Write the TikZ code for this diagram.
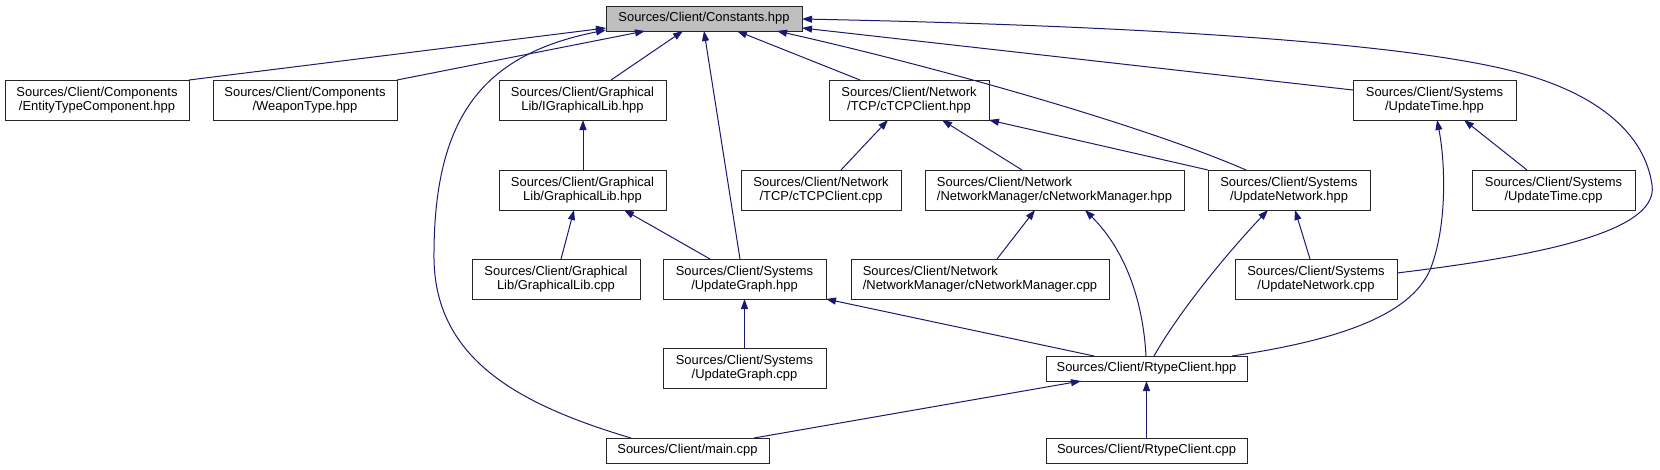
\documentclass[tikz,border=0pt]{standalone}
\usepackage{fontspec}
\setmainfont{Liberation Sans}
\usetikzlibrary{arrows.meta,calc}
\definecolor{edgeblue}{HTML}{191970}
\definecolor{rootgray}{HTML}{BFBFBF}
\tikzset{
  x=0.75pt, y=-0.75pt,
  box/.style={draw=black!85, line width=0.75pt, fill=white, inner sep=0pt, outer sep=0pt,
    align=center, font=\fontsize{9.7}{11}\selectfont, minimum height=30pt},
  onebox/.style={box, minimum height=18.75pt},
  leftbox/.style={box, align=left},
  rootbox/.style={onebox, fill=rootgray},
  edge/.style={draw=edgeblue, line width=0.75pt, -{Triangle[length=7.5pt,width=5.25pt]}},
}
\begin{document}
\begin{tikzpicture}
\useasboundingbox (0,0) rectangle (1660,469);
% row 0
\node[rootbox, minimum width=147pt] (const) at (704,18.5) {Sources/Client/Constants.hpp};
% row 1
\node[box, minimum width=138pt] (etc) at (97,100) {Sources/Client/Components\\/EntityTypeComponent.hpp};
\node[box, minimum width=138pt] (wt) at (305,100) {Sources/Client/Components\\/WeaponType.hpp};
\node[box, minimum width=125.25pt] (igl) at (582.5,100) {Sources/Client/Graphical\\Lib/IGraphicalLib.hpp};
\node[box, minimum width=120pt] (tcph) at (909,100) {Sources/Client/Network\\/TCP/cTCPClient.hpp};
\node[box, minimum width=122.25pt] (uth) at (1434.5,100) {Sources/Client/Systems\\/UpdateTime.hpp};
% row 2
\node[box, minimum width=125.25pt] (glh) at (582.5,190) {Sources/Client/Graphical\\Lib/GraphicalLib.hpp};
\node[box, minimum width=120pt] (tcpc) at (821,190) {Sources/Client/Network\\/TCP/cTCPClient.cpp};
\node[leftbox, minimum width=194.25pt] (nmh) at (1054.5,190) {Sources/Client/Network\\/NetworkManager/cNetworkManager.hpp};
\node[box, minimum width=121.5pt] (unh) at (1289,190) {Sources/Client/Systems\\/UpdateNetwork.hpp};
\node[box, minimum width=122.25pt] (utc) at (1553.5,190) {Sources/Client/Systems\\/UpdateTime.cpp};
% row 3
\node[box, minimum width=126pt] (glc) at (556,279) {Sources/Client/Graphical\\Lib/GraphicalLib.cpp};
\node[box, minimum width=122.25pt] (ugh) at (744.5,279) {Sources/Client/Systems\\/UpdateGraph.hpp};
\node[leftbox, minimum width=193.5pt] (nmc) at (980,279) {Sources/Client/Network\\/NetworkManager/cNetworkManager.cpp};
\node[box, minimum width=121.5pt] (unc) at (1316,279) {Sources/Client/Systems\\/UpdateNetwork.cpp};
% row 4
\node[box, minimum width=122.25pt] (ugc) at (744.5,368) {Sources/Client/Systems\\/UpdateGraph.cpp};
\node[onebox, minimum width=150.75pt] (rch) at (1146.5,368.5) {Sources/Client/RtypeClient.hpp};
% row 5
\node[onebox, minimum width=122.25pt] (main) at (687.5,450.5) {Sources/Client/main.cpp};
\node[onebox, minimum width=150.75pt] (rcc) at (1146.5,450.5) {Sources/Client/RtypeClient.cpp};

% edges into Constants
\draw[edge] (etc.north east) -- (const.west |- 0,28);
\draw[edge] (wt.north east) -- (const.south -| 645,0);
\draw[edge] (main.north -| 631,0) .. controls (520,405) and (436,360) .. (434,260)
  .. controls (433,120) and (480,55) .. (const.west |- 0,30);
\draw[edge] (igl.north -| 611,0) -- (const.south -| 683,0);
\draw[edge] (ugh.north -| 740,0) -- (const.south -| 704,0);
\draw[edge] (tcph.north -| 860,0) -- (const.south -| 737,0);
\draw[edge] (unh.north -| 1246,0) .. controls (1150,128) and (950,70) .. (const.south -| 777,0);
\draw[edge] (uth.west |- 0,90) -- (const.east |- 0,28);
\draw[edge] (unc.east |- 0,273) .. controls (1520,258) and (1660,235) .. (1652,185)
  .. controls (1645,135) and (1600,95) .. (1520,73)
  .. controls (1400,40) and (1100,25) .. (const.east |- 0,19);
% graphical
\draw[edge] (glh.north -| 583,0) -- (igl.south -| 583,0);
\draw[edge] (glc.north -| 561,0) -- (glh.south -| 574,0);
\draw[edge] (ugh.north -| 710,0) -- (glh.south -| 624,0);
\draw[edge] (ugc.north) -- (ugh.south);
\draw[edge] (rch.north -| 1094,0) -- (ugh.south east);
\draw[edge] (main.north -| 754,0) -- (rch.south -| 1081,0);
\draw[edge] (rcc.north) -- (rch.south);
% network
\draw[edge] (tcpc.north -| 841,0) -- (tcph.south -| 888,0);
\draw[edge] (nmh.north -| 1022,0) -- (tcph.south -| 942,0);
\draw[edge] (unh.north west) -- (tcph.south east);
\draw[edge] (nmc.north -| 997,0) -- (nmh.south -| 1035,0);
\draw[edge] (rch.north -| 1146,0) .. controls (1143,300) and (1125,250) .. (nmh.south -| 1085,0);
\draw[edge] (rch.north -| 1154,0) .. controls (1180,310) and (1230,250) .. (unh.south -| 1268,0);
\draw[edge] (unc.north -| 1310,0) -- (unh.south -| 1295,0);
% time
\draw[edge] (rch.north -| 1232,0) .. controls (1340,340) and (1410,315) .. (1430,270)
  .. controls (1448,225) and (1445,160) .. (uth.south -| 1437,0);
\draw[edge] (utc.north -| 1527,0) -- (uth.south -| 1464,0);
\end{tikzpicture}
\end{document}
